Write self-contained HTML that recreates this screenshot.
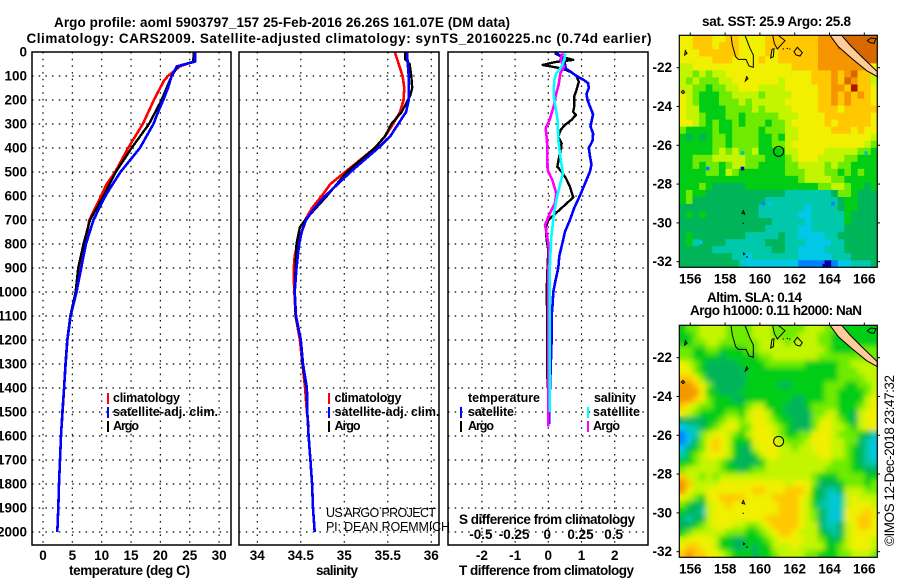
<!DOCTYPE html>
<html>
<head>
<meta charset="utf-8">
<title>Argo profile</title>
<style>
html,body{margin:0;padding:0;background:#fff;}
svg{display:block;}
text{font-family:"Liberation Sans",sans-serif;font-size:13.5px;font-weight:bold;fill:#000;}
text.thin{font-weight:normal;font-size:12.5px;}
text.leg{font-size:12.5px;}
</style>
</head>
<body>
<svg id="chart" xmlns="http://www.w3.org/2000/svg" width="900" height="580" viewBox="0 0 900 580">
<defs>
<clipPath id="clip-top"><rect x="679.3" y="35.3" width="198" height="232"/></clipPath>
<clipPath id="clip-bot"><rect x="679.3" y="325.3" width="198" height="232"/></clipPath>
<filter id="soft" x="-5%" y="-5%" width="110%" height="110%"><feGaussianBlur stdDeviation="2.6"/></filter>
<g id="coast" fill="none" stroke="#000" stroke-width="3">
<path d="M480 106L515 106L540 135L575 170L622 215L622 230L590 212L545 175L505 140Z" fill="#ffcc99"/>
<path d="M183 106L187 135L197 170L205 178L228 178L237 198L250 202L250 165L240 145L225 106"/>
<path d="M308 106L313 130L322 147L345 122L330 110L325 106"/>
<path d="M302 174L306 148L312 146L310 170Z"/>
<path d="M372 155L382 142L397 158L390 168L378 165Z"/>
<path d="M338 148l4 -2M350 146l4 -1M358 148l3 -2"/>
<path d="M44 165L46 152L51 160Z"/>
<path d="M226 243L230 230L234 236Z"/>
<path d="M34 276L39 271L44 277L39 281Z"/>
<path d="M216 640L220 632L224 642Z"/>
<path d="M218 670h4M219 758l5 4l-5 3M228 771h6"/>
<path d="M592 122L603 114L618 116L612 130L600 128Z"/>
<circle cx="326" cy="454" r="15"/>
</g>
</defs>

<rect x="0" y="0" width="900" height="580" fill="#fff"/>

<text x="54" y="27" textLength="456" lengthAdjust="spacing">Argo profile: aoml 5903797_157 25-Feb-2016 26.26S 161.07E (DM data)</text>
<text x="26.5" y="43" textLength="625" lengthAdjust="spacing">Climatology: CARS2009. Satellite-adjusted climatology: synTS_20160225.nc (0.74d earlier)</text>

<g id="grid-layer"></g>
<g id="lines-layer"></g>

<rect x="32" y="52" width="199" height="493" fill="none" stroke="#000" stroke-width="1.5"/>
<rect x="239" y="52" width="200" height="493" fill="none" stroke="#000" stroke-width="1.5"/>
<rect x="448" y="52" width="200" height="493" fill="none" stroke="#000" stroke-width="1.5"/>

<g id="tick-labels"></g>

<text x="69" y="575" textLength="121" lengthAdjust="spacing">temperature (deg C)</text>
<text x="316" y="575" textLength="42" lengthAdjust="spacing">salinity</text>
<text x="459" y="575" textLength="175" lengthAdjust="spacing">T difference from climatology</text>
<text x="459" y="524" textLength="176" lengthAdjust="spacing">S difference from climatology</text>

<g>
<rect x="107" y="393" width="2" height="11" fill="#f00"/>
<text class="leg" x="113" y="402" textLength="67" lengthAdjust="spacing">climatology</text>
<rect x="107" y="407" width="2" height="11" fill="#00f"/>
<text class="leg" x="113" y="416" textLength="105" lengthAdjust="spacing">satellite-adj. clim.</text>
<rect x="107" y="421" width="2" height="11" fill="#000"/>
<text class="leg" x="113" y="430" textLength="26" lengthAdjust="spacing">Argo</text>
</g>
<g>
<rect x="328" y="393" width="2" height="11" fill="#f00"/>
<text class="leg" x="334.5" y="402" textLength="67" lengthAdjust="spacing">climatology</text>
<rect x="328" y="407" width="2" height="11" fill="#00f"/>
<text class="leg" x="334.5" y="416" textLength="105" lengthAdjust="spacing">satellite-adj. clim.</text>
<rect x="328" y="421" width="2" height="11" fill="#000"/>
<text class="leg" x="334.5" y="430" textLength="26" lengthAdjust="spacing">Argo</text>
</g>
<g>
<text class="leg" x="468" y="402" textLength="72" lengthAdjust="spacing">temperature</text>
<rect x="460" y="407" width="2" height="11" fill="#00f"/>
<text class="leg" x="468" y="416" textLength="46" lengthAdjust="spacing">satellite</text>
<rect x="460" y="421" width="2" height="11" fill="#000"/>
<text class="leg" x="468" y="430" textLength="26" lengthAdjust="spacing">Argo</text>
<text class="leg" x="594" y="402" textLength="42" lengthAdjust="spacing">salinity</text>
<rect x="587" y="407" width="2" height="11" fill="#0ff"/>
<text class="leg" x="593" y="416" textLength="47" lengthAdjust="spacing">satellite</text>
<rect x="587" y="421" width="2" height="11" fill="#f0f"/>
<text class="leg" x="593" y="430" textLength="27" lengthAdjust="spacing">Argo</text>
</g>

<text class="thin" x="326" y="517" textLength="110" lengthAdjust="spacing">US ARGO PROJECT</text>
<text class="thin" x="326" y="531" textLength="124" lengthAdjust="spacing">PI: DEAN ROEMMICH</text>

<text x="702" y="26" textLength="149" lengthAdjust="spacing">sat. SST: 25.9 Argo: 25.8</text>
<text x="707" y="302" textLength="95" lengthAdjust="spacing">Altim. SLA: 0.14</text>
<text x="690" y="315" textLength="172" lengthAdjust="spacing">Argo h1000: 0.11 h2000: NaN</text>

<g id="map-top" clip-path="url(#clip-top)"></g>
<use href="#coast" transform="translate(670 0) scale(0.3333)"/>
<rect x="679.3" y="35.3" width="198" height="232" fill="none" stroke="#000" stroke-width="1.2"/>

<g id="map-bot" clip-path="url(#clip-bot)"></g>
<use href="#coast" transform="translate(670 290) scale(0.3333)"/>
<rect x="679.3" y="325.3" width="198" height="232" fill="none" stroke="#000" stroke-width="1.2"/>

<g id="map-ticks"></g>

<text class="thin" transform="translate(894 546) rotate(-90)" style="font-size:13.5px" textLength="171" lengthAdjust="spacing">©IMOS 12-Dec-2018 23:47:32</text>

<script>
/* ---------- depth axis ---------- */
const depthTicks = [0,100,200,300,400,500,600,700,800,900,1000,1100,1200,1300,1400,1500,1600,1700,1800,1900,2000];
const tempTicks = [0,5,10,15,20,25,30];
const salTicks = [34,34.5,35,35.5,36];
const tdiffTicks = [-2,-1,0,1,2];
const sdiffTicks = [-0.5,-0.25,0,0.25,0.5];
const lonTicks = [156,158,160,162,164,166];
const latTicks = [-22,-24,-26,-28,-30,-32];

/* ---------- temperature panel ---------- */
const tempClimDepth = [0,40,60,100,120,200,300,400,500,550,600,650,700,800,900,1000,1100,1200,1300,1400,1550];
const tempClim = [25.7,25.6,23.3,21.3,20.6,18.9,17.0,14.5,12.3,10.85,9.9,8.9,7.9,7.15,6.2,5.6,4.7,4.15,3.85,3.6,3.2];
const tempSatDepth = [0,40,60,100,150,200,250,300,400,500,600,700,800,900,1000,1100,1200,1300,1400,1500,1600,1700,1800,1900,2000];
const tempSat = [25.9,25.9,22.8,21.9,21.3,20.5,19.6,18.8,16.5,13.2,10.6,8.6,7.3,6.5,5.7,4.7,4.15,3.85,3.6,3.3,3.07,2.9,2.73,2.6,2.44];
const tempArgoDepth = [0,40,60,100,200,300,400,500,600,700,800,900,1000,1100,1200,1300,1400,1550];
const tempArgo = [25.7,25.6,23.0,21.9,20.2,18.05,15.1,12.4,10.3,8.0,6.9,6.0,5.55,4.65,4.12,3.82,3.57,3.2];

/* ---------- salinity panel ---------- */
const salClimDepth = [0,100,150,200,250,300,350,400,500,550,600,650,700,750,800,850,900,950,1100,1200,1300,1400,1500,1560];
const salClim = [35.58,35.67,35.69,35.68,35.64,35.56,35.47,35.35,35.01,34.84,34.74,34.63,34.55,34.51,34.46,34.43,34.42,34.42,34.44,34.49,34.52,34.55,34.57,34.59];
const salSatDepth = [0,50,100,200,250,300,350,400,500,600,650,700,750,800,900,1000,1100,1200,1300,1400,1500,1600,1700,1800,1900,2000];
const salSat = [35.72,35.73,35.74,35.74,35.71,35.62,35.53,35.39,35.07,34.78,34.66,34.56,34.51,34.48,34.45,34.43,34.445,34.5,34.525,34.57,34.575,34.59,34.61,34.63,34.64,34.66];
const salArgoDepth = [0,30,50,100,150,180,250,300,350,400,500,600,700,730,800,900,1000,1100,1200,1300,1400,1550];
const salArgo = [35.70,35.70,35.75,35.77,35.78,35.76,35.66,35.54,35.47,35.35,35.03,34.80,34.55,34.49,34.45,34.44,34.43,34.44,34.5,34.52,34.565,34.58];

/* ---------- difference panel ---------- */
const dTSatDepth = [0,20,30,50,70,80,100,115,130,150,175,200,225,260,290,310,340,370,400,430,470,500,550,600,650,700,750,800,850,900,950,1000,1050,1100,1200,1400,1550];
const dTSat = [0.2,0.4,0.47,0.5,0.53,0.65,0.85,1.05,1.2,1.22,1.15,1.18,1.25,1.35,1.3,1.27,1.35,1.33,1.22,1.25,1.3,1.25,1.1,0.95,0.78,0.65,0.5,0.42,0.33,0.3,0.22,0.15,0.13,0.1,0.1,0.05,0.02];
const dTArgoDepth = [6,20,33,42,54,62,70,85,100,124,158,186,228,249,263,283,304,325,353,381,408,478,499,526,561,606,644,700,728,783,825,922,1006,1103,1220,1350,1500,1530];
const dTArgo = [0.2,0.4,0.75,0.2,-0.17,0.15,0.45,0.7,0.85,0.92,0.85,0.78,0.78,0.75,0.83,0.7,0.5,0.37,0.3,0.4,0.37,0.27,0.4,0.53,0.65,0.75,0.45,0,-0.07,-0.05,0,-0.03,-0.05,-0.03,-0.03,-0.03,0.03,0.03];
const dSSatDepth = [6,33,61,89,117,172,214,283,367,436,506,547,617,686,783,894,1103,1300,1500];
const dSSat = [0.13,0.12,0.10,0.06,0.045,0.04,0.05,0.07,0.075,0.09,0.11,0.09,0.06,0.04,0.02,0.012,0.012,0.012,0.012];
const dSArgoDepth = [6,33,61,89,131,172,228,283,318,367,492,533,589,631,672,721,769,825,922,1103,1300,1560];
const dSArgo = [0.11,0.09,0.12,0.09,0.08,0.06,0.04,0.01,-0.02,-0.01,-0.005,0.03,0.06,0.05,0.012,-0.025,-0.008,0.005,0,0,0,0];

/* ---------- map heatmaps: one base-36 level per cell, north to south ---------- */
const sstRows = [
"889998899888899999999aaaabbbbb",
"889998999888899999999aaabbbbbb",
"888999999888898999999aaaaabbbb",
"888889998888988999999aaaaaabbb",
"778888888888888889999aaaaaaa98",
"77676778888888888888999a9ab997",
"76766677888888878888999a9ba997",
"77665667788877778888899aa9c998",
"87655566777767777888899a9a9a98",
"87655566676777778888899a9a9998",
"877555566667677778888999899999",
"877655566566666777888899999998",
"887656556566656678888898999998",
"655556556666566677888889998988",
"545456656666556577888888888887",
"555556656666556678888888888876",
"555556767667555577888877777665",
"556667777766655567888777766555",
"556566567766555566777767665555",
"555566576555555566677766565655",
"555555555555555555677776655555",
"555654444455555555555667765545",
"565544444444444433333334665444",
"564444444444433333333333455444",
"444444444444333333323333455444",
"454544444444333333223333354444",
"444444444444443333323333354444",
"444444444444433333223333344444",
"454444444433333433222233444444",
"453444433333344433322223344444",
"444443333333334433222233344444",
"444444443323333333222223334444",
"444444444322222222111101223334"
];
const slaRows = [
"566777766667776666677766555555",
"556777766667776666777665555555",
"556677666666777767777665555555",
"665566555566777777777765555666",
"665555455555667777777666666666",
"876544444555566666655555667777",
"886544444455555555555555666777",
"998644444455555555555555666677",
"aa9864444455555445555566655667",
"aaa855444555555555555566555567",
"aa9865554455555554455566555578",
"987665555567755544456666555678",
"876555566578875544446677554788",
"444455677678876554446787654788",
"233456788668887654446887765788",
"123678876578887655668887666543",
"124689875558888766678887766432",
"245689875447888776778887765432",
"356788875445788777777887765432",
"556777654444577777777776665433",
"677777655456677777777766665544",
"977676777777777777776555666655",
"a97777888888888878886444566656",
"a87788888889988899985433477766",
"876588999988889999875432378777",
"654478898888888999875332378887",
"544378888888888999876432388898",
"434478888888899999876432388998",
"445678887766789999877433478998",
"567777766655678998777543478888",
"788887554455567888877654578887",
"899887554454557778777755678887",
"9a9988765554556777766555667776"
];
const sstSpeckLon = [157.0,159.0,159.0,160.2,160.6,164.2,163.7,164.0,156.6,166.1,159.0];
const sstSpeckLat = [-27.2,-27.2,-26.4,-29.0,-29.0,-29.0,-32.2,-31.0,-31.0,-26.4,-32.0];
const sstSpeckLevel = [1,0,3,1,2,1,0,2,2,3,2];

/* ---------- scales ---------- */
const svg = document.getElementById('chart');
const NS = 'http://www.w3.org/2000/svg';
function make(parent, tag, attrs, txt){
  const el = document.createElementNS(NS, tag);
  for (const k in attrs) el.setAttribute(k, attrs[k]);
  if (txt !== undefined) el.textContent = txt;
  parent.appendChild(el);
  return el;
}
const yDepth = d => 52 + d * 0.24;
const xTemp = t => 43 + t * 5.87;
const xSal = s => 257.3 + (s - 34) * 87;
const xTDiff = t => 548.3 + t * 33.2;
const xSDiff = s => 548.3 + s * 132.8;
const xLon = l => 690.3 + (l - 156) * 17.4;
const yLat = (l, off) => 67.67 + (-22 - l) * 19.4 + off;

/* ---------- grid ---------- */
const gridG = document.getElementById('grid-layer');
const panels = [
  {x0:32, x1:231, ticks:tempTicks, fx:xTemp, name:'temperature'},
  {x0:239, x1:439, ticks:salTicks, fx:xSal, name:'salinity'},
  {x0:448, x1:648, ticks:tdiffTicks, fx:xTDiff, name:'difference'}
];
panels.forEach(p => {
  depthTicks.forEach(d => {
    if (d === 0) return;
    const l = make(gridG, 'line', {x1:p.x0, x2:p.x1, y1:yDepth(d), y2:yDepth(d), stroke:'#000', 'stroke-width':1.2, 'stroke-dasharray':'1.5 5.2'});
    
    
  });
  p.ticks.forEach(t => {
    const l = make(gridG, 'line', {x1:p.fx(t), x2:p.fx(t), y1:52, y2:545, stroke:'#000', 'stroke-width':1.2, 'stroke-dasharray':'1.5 5.2'});
    
    
  });
});

/* ---------- profile lines ---------- */
const linesG = document.getElementById('lines-layer');
const series = [
  ['temperature-climatology-line', tempClimDepth, tempClim, xTemp, '#f00', 2.6],
  ['temperature-argo-line', tempArgoDepth, tempArgo, xTemp, '#000', 2.4],
  ['temperature-satellite-line', tempSatDepth, tempSat, xTemp, '#00f', 2.6],
  ['salinity-climatology-line', salClimDepth, salClim, xSal, '#f00', 2.6],
  ['salinity-argo-line', salArgoDepth, salArgo, xSal, '#000', 2.4],
  ['salinity-satellite-line', salSatDepth, salSat, xSal, '#00f', 2.6],
  ['t-diff-argo-line', dTArgoDepth, dTArgo, xTDiff, '#000', 2.4],
  ['t-diff-satellite-line', dTSatDepth, dTSat, xTDiff, '#00f', 2.6],
  ['s-diff-argo-line', dSArgoDepth, dSArgo, xSDiff, '#f0f', 2.6],
  ['s-diff-satellite-line', dSSatDepth, dSSat, xSDiff, '#0ff', 2.6]
];
series.forEach(s => {
  const pts = s[1].map((d, i) => s[3](s[2][i]).toFixed(1) + ',' + yDepth(d).toFixed(1)).join(' ');
  const pl = make(linesG, 'polyline', {points:pts, fill:'none', stroke:s[4], 'stroke-width':s[5], 'stroke-linejoin':'round', 'shape-rendering':'crispEdges'});
  
  
});

/* ---------- tick labels ---------- */
const labG = document.getElementById('tick-labels');
depthTicks.forEach(d => {
  const t = make(labG, 'text', {x:27, y:yDepth(d) + 4.5, 'text-anchor':'end'}, String(d));
  
  
});
tempTicks.forEach(v => {
  const t = make(labG, 'text', {x:xTemp(v), y:560, 'text-anchor':'middle'}, String(v));
  
  
});
salTicks.forEach(v => {
  const t = make(labG, 'text', {x:xSal(v), y:560, 'text-anchor':'middle'}, String(v));
  
  
});
tdiffTicks.forEach(v => {
  const t = make(labG, 'text', {x:xTDiff(v), y:560, 'text-anchor':'middle'}, String(v));
  
  
});
sdiffTicks.forEach(v => {
  const t = make(labG, 'text', {x:xSDiff(v) - 1, y:539, 'text-anchor':'middle'}, String(v));
  
  
});

/* ---------- heatmaps ---------- */
const palette = ['rgb(0,0,160)','rgb(0,130,255)','rgb(0,200,230)','rgb(0,200,170)','rgb(0,180,90)','rgb(0,205,20)','rgb(110,235,0)','rgb(195,245,0)','rgb(240,240,0)','rgb(255,200,0)','rgb(245,150,0)','rgb(215,105,0)','rgb(170,20,0)'];
const lonMin = 155.37, lonMax = 166.75, latMax = -20.33, latMin = -32.29;
const gridCols = 30;
function drawCells(parent, rows, off, name){
  rows.forEach((row, r) => {
    for (let c = 0; c < gridCols; c++) {
      const lv = parseInt(row[Math.min(c, row.length - 1)], 36);
      const lonA = lonMin + (lonMax - lonMin) * c / gridCols;
      const lonB = lonMin + (lonMax - lonMin) * (c + 1) / gridCols;
      const latA = latMax + (latMin - latMax) * r / rows.length;
      const latB = latMax + (latMin - latMax) * (r + 1) / rows.length;
      const cell = make(parent, 'rect', {x:xLon(lonA).toFixed(2), y:yLat(latA, off).toFixed(2), width:(xLon(lonB) - xLon(lonA) + 0.6).toFixed(2), height:(yLat(latB, off) - yLat(latA, off) + 0.6).toFixed(2), fill:palette[lv]});
      
      
    }
  });
}
const topG = document.getElementById('map-top');
drawCells(topG, sstRows, 0, 'sst-cell');
sstSpeckLon.forEach((lon, i) => {
  const sp = make(topG, 'rect', {x:xLon(lon) - 1.8, y:yLat(sstSpeckLat[i], 0) - 1.8, width:3.6, height:3.6, fill:palette[sstSpeckLevel[i]]});
  
  
});
const botG = document.getElementById('map-bot');
drawCells(botG, slaRows, 290, 'sla-cell');
const softG = make(botG, 'g', {filter:'url(#soft)'});


drawCells(softG, slaRows, 290, 'sla-smooth-cell');

/* ---------- map ticks ---------- */
const mt = document.getElementById('map-ticks');
[0, 290].forEach(off => {
  lonTicks.forEach(l => {
    const tk = make(mt, 'line', {x1:xLon(l), x2:xLon(l), y1:32.5 + off, y2:35.3 + off, stroke:'#000', 'stroke-width':1});
    
    
    const lb = make(mt, 'text', {x:xLon(l), y:283.5 + off, 'text-anchor':'middle'}, String(l));
    
    
  });
  latTicks.forEach(l => {
    const tk = make(mt, 'line', {x1:676.5, x2:679.3, y1:yLat(l, off), y2:yLat(l, off), stroke:'#000', 'stroke-width':1});
    
    
    const tk2 = make(mt, 'line', {x1:877.3, x2:880, y1:yLat(l, off), y2:yLat(l, off), stroke:'#000', 'stroke-width':1});
    
    
    const lb = make(mt, 'text', {x:672, y:yLat(l, off) + 4.5, 'text-anchor':'end'}, String(l));
    
    
  });
});
</script>
</svg>
</body>
</html>
